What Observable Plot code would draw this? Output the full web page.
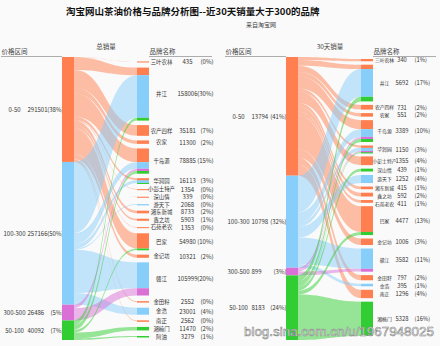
<!DOCTYPE html>
<html><head><meta charset="utf-8">
<script src="https://cdn.jsdelivr.net/npm/d3@7"></script>
<script src="https://cdn.jsdelivr.net/npm/@observablehq/plot@0.6"></script>
<style>
body{margin:0;background:#fafafa;font-family:"Noto Sans CJK SC",sans-serif;width:440px;height:346px;overflow:hidden;position:relative}
#title{height:20px;line-height:22px;font-size:9.5px;font-weight:bold;padding-left:66px;color:#111;white-space:nowrap}
#sub{height:13px;line-height:10px;font-size:6px;padding-left:246px;color:#444}
#wm{position:absolute;left:244px;top:324px;font:13.4px "Liberation Sans",sans-serif;color:#fff;-webkit-text-stroke:0.6px #888;white-space:nowrap}
svg{display:block}
</style></head><body>
<div id="title">淘宝网山茶油价格与品牌分析图--近30天销量大于300的品牌</div>
<div id="sub">来自淘宝网</div>
<div id="chart"></div>
<div id="wm">blog.sina.com.cn/u/1967948025</div>
<script>
// ---------- data ----------
const charts = ["总销量", "30天销量"];
const intervals = ["0-50", "100-300", "300-500", "50-100"];
const intervalColors = ["#ff7f50", "#87cefa", "#da70d6", "#32cd32"];

const intervalTotalsLeft = ["291501", "257166", "26486", "40092"];
const intervalPctsLeft = ["(38%)", "(50%)", "(5%)", "(7%)"];
const intervalTotalsRight = ["13794", "10798", "899", "8183"];
const intervalPctsRight = ["(41%)", "(32%)", "(3%)", "(24%)"];

const brandsLeft = ["三叶农林","井江","农产四样","农家","千岛源","华润园","小彭土特产","深山情","游天下","湘东新城","鑫之坊","石苑老农","巴家","金记坊","赣江","金田籽","金浩","南正","湘楠门","阿油"];
const brandValuesLeft = ["435","158006","35181","11300","78885","16113","1354","339","2068","8733","5903","1353","54980","10321","105999","2552","23001","2562","11470","3279"];
const brandPctsLeft = ["(0%)","(30%)","(7%)","(2%)","(15%)","(3%)","(0%)","(0%)","(0%)","(2%)","(1%)","(0%)","(10%)","(2%)","(20%)","(0%)","(4%)","(0%)","(2%)","(1%)"];

const brandsRight = ["三叶农林","井江","农产四样","农家","千岛源","华润园","小彭土特产","深山情","游天下","湘东新城","鑫之坊","石苑老农","巴家","金记坊","赣江","金田籽","金浩","南正","湘楠门"];
const brandValuesRight = ["340","5692","731","551","3389","1150","1355","439","1252","415","592","411","4477","1006","3582","797","395","1296","5328"];
const brandPctsRight = ["(1%)","(17%)","(2%)","(2%)","(10%)","(3%)","(4%)","(1%)","(4%)","(1%)","(2%)","(1%)","(13%)","(3%)","(11%)","(2%)","(1%)","(4%)","(16%)"];

// flows: [brand, price interval, sales] (estimated from band widths)
const linksLeft = [
  ["三叶农林","0-50",435],
  ["井江","0-50",25000],["井江","100-300",140000],["井江","50-100",9000],
  ["农产四样","0-50",35181],
  ["农家","0-50",11300],
  ["千岛源","0-50",45000],["千岛源","100-300",21700],["千岛源","300-500",7000],["千岛源","50-100",9000],
  ["华润园","0-50",6400],["华润园","100-300",9000],["华润园","50-100",713],
  ["小彭土特产","0-50",1354],
  ["深山情","0-50",339],
  ["游天下","100-300",2068],
  ["湘东新城","0-50",8733],
  ["鑫之坊","0-50",5903],
  ["石苑老农","0-50",1353],
  ["巴家","0-50",50000],["巴家","50-100",5000],
  ["金记坊","0-50",10321],
  ["赣江","100-300",85000],["赣江","300-500",24000],
  ["金田籽","0-50",2552],
  ["金浩","100-300",23001],
  ["南正","0-50",2562],
  ["湘楠门","50-100",11470],
  ["阿油","50-100",3279]
];
const linksRight = [
  ["三叶农林","0-50",340],
  ["井江","0-50",680],["井江","100-300",4300],["井江","50-100",712],
  ["农产四样","0-50",731],
  ["农家","0-50",551],
  ["千岛源","0-50",1400],["千岛源","100-300",1200],["千岛源","300-500",300],["千岛源","50-100",489],
  ["华润园","0-50",350],["华润园","100-300",500],["华润园","300-500",167],["华润园","50-100",133],
  ["小彭土特产","0-50",1355],
  ["深山情","50-100",439],
  ["游天下","100-300",1252],
  ["湘东新城","0-50",415],
  ["鑫之坊","0-50",592],
  ["石苑老农","0-50",411],
  ["巴家","0-50",4000],["巴家","50-100",477],
  ["金记坊","0-50",1006],
  ["赣江","100-300",3150],["赣江","300-500",432],
  ["金田籽","0-50",797],
  ["金浩","100-300",395],
  ["南正","0-50",1296],
  ["湘楠门","50-100",5328]
];

// ---------- layout (sankey-style stacking) ----------
const BAND = 87;          // facet band width in px
const PX = 1 / BAND;      // one pixel in x units
const W = 12 * PX;        // node column width
const UNIT = 1 / 283;     // one pixel in y units

function layout(chart, brands, links, p) {
  const total = d3.sum(links, d => d[2]);
  const L = links.map(([b, iv, v], i) => ({chart, id: chart + i, brand: b, src: iv,
    si: intervals.indexOf(iv), bi: brands.indexOf(b), v: v / total}));
  const src = [];
  let y = 0;
  intervals.forEach((iv, si) => {
    const ls = L.filter(l => l.si === si).sort((a, b) => a.bi - b.bi);
    const y0 = y;
    ls.forEach(l => { l.sy0 = y; y += l.v; l.sy1 = y; });
    src.push({chart, iv, si, y0, y1: y});
  });
  // brand column: scale k with a minimum node height
  const bv = brands.map((b, bi) => d3.sum(L.filter(l => l.bi === bi), l => l.v));
  const span = p.end - p.offset - p.gap * (brands.length - 1);
  let k = span / d3.sum(bv);
  for (let it = 0; it < 30; it++) {
    const small = bv.filter(v => v * k < p.minH);
    k = (span - small.length * p.minH) / d3.sum(bv.filter(v => v * k >= p.minH));
  }
  let by = p.offset;
  const nodes = [];
  brands.forEach((b, bi) => {
    const ls = L.filter(l => l.bi === bi).sort((a, c) => a.si - c.si);
    const h = bv[bi] * k, space = Math.max(h, p.minH);
    const y0 = by;
    let yy = by + (space - h) / 2;
    ls.forEach(l => { l.ty0 = yy; yy += l.v * k; l.ty1 = yy; });
    by += space;
    nodes.push({chart, b, bi, y0, y1: by});
    by += p.gap;
  });
  // label relaxation so small neighbours don't collide
  nodes.forEach(d => d.ly = (d.y0 + d.y1) / 2);
  for (let i = 1; i < nodes.length; i++)
    if (nodes[i].ly < nodes[i - 1].ly + p.labelGap) nodes[i].ly = nodes[i - 1].ly + p.labelGap;
  const n = nodes.length;
  if (nodes[n - 1].ly > p.labelMax) {
    nodes[n - 1].ly = p.labelMax;
    for (let i = n - 2; i >= 0; i--)
      if (nodes[i].ly > nodes[i + 1].ly - p.labelGap) nodes[i].ly = nodes[i + 1].ly - p.labelGap;
  }
  return {L, src, nodes};
}

const left = layout(charts[0], brandsLeft, linksLeft,
  {offset: 3 * UNIT, gap: 4.6 * UNIT, minH: 3 * UNIT, end: 281 * UNIT, labelGap: 7.4 * UNIT, labelMax: 283 * UNIT});
const right = layout(charts[1], brandsRight, linksRight,
  {offset: 2 * UNIT, gap: 3.5 * UNIT, minH: 0, end: 279 * UNIT, labelGap: 7.8 * UNIT, labelMax: 283 * UNIT});

left.src.forEach((d, i) => { d.val = intervalTotalsLeft[i]; d.pct = intervalPctsLeft[i]; });
right.src.forEach((d, i) => { d.val = intervalTotalsRight[i]; d.pct = intervalPctsRight[i]; });
left.nodes.forEach((d, i) => { d.val = brandValuesLeft[i]; d.pct = brandPctsLeft[i]; });
right.nodes.forEach((d, i) => { d.val = brandValuesRight[i]; d.pct = brandPctsRight[i]; });

const allLinks = [...left.L, ...right.L].sort((a, b) => a.si - b.si);
const linkRows = allLinks.flatMap(l => [
  {chart: l.chart, id: l.id, src: l.src, x: W, y1: l.sy0, y2: l.sy1},
  {chart: l.chart, id: l.id, src: l.src, x: 1 - W, y1: l.ty0, y2: l.ty1}
]);
const allSrc = [...left.src, ...right.src];
const headers = charts.map(c => ({chart: c}));
const mid = d => (d.y0 + d.y1) / 2;
const txt = {fontSize: 6, fill: "#333"};

const chart = Plot.plot({
  width: 440, height: 313,
  marginLeft: 61, marginRight: 67, marginTop: 24, marginBottom: 6,
  style: {fontFamily: "'Noto Sans CJK SC', sans-serif", background: "transparent"},
  fx: {domain: charts, paddingInner: 0.613, paddingOuter: 0, axis: null},
  x: {domain: [0, 1], axis: null},
  y: {domain: [0, 1], reverse: true, axis: null},
  color: {domain: intervals, range: intervalColors},
  marks: [
    Plot.text(headers, {fx: "chart", frameAnchor: "top", dy: -13, text: "chart", fontSize: 6.5, fill: "#444"}),
    Plot.text(headers, {fx: "chart", x: 0, y: 0, dx: -61, dy: -6, text: () => "价格区间", textAnchor: "start", fontSize: 6.5, fill: "#444"}),
    Plot.text(headers, {fx: "chart", x: 1, y: 0, dx: 0, dy: -6, text: () => "品牌名称", textAnchor: "start", fontSize: 6.5, fill: "#444"}),
    Plot.ruleY(headers, {fx: "chart", y: 0, x1: -61 * PX, x2: 0, stroke: "#999", strokeWidth: 0.8, dy: -1}),
    Plot.ruleY(headers, {fx: "chart", y: 0, x1: 1, x2: 1 + 63 * PX, stroke: "#999", strokeWidth: 0.8, dy: -1}),
    // flows
    Plot.area(linkRows, {fx: "chart", x1: "x", y1: "y1", y2: "y2", z: "id", fill: "src", fillOpacity: 0.5, curve: "bump-x"}),
    // price interval labels
    Plot.text(allSrc, {fx: "chart", x: 0, y: mid, text: "iv", dx: -48, textAnchor: "middle", ...txt}),
    Plot.text(allSrc, {fx: "chart", x: 0, y: mid, text: "val", dx: -35, textAnchor: "start", ...txt}),
    Plot.text(left.src, {fx: "chart", x: 0, y: mid, text: "pct", dx: 1, textAnchor: "end", ...txt}),
    Plot.text(right.src, {fx: "chart", x: 0, y: mid, text: "pct", dx: 0, textAnchor: "end", ...txt}),
    // nodes
    Plot.rect(allSrc, {fx: "chart", x1: 0, x2: W, y1: "y0", y2: "y1", fill: "iv"}),
    Plot.rect([...left.L, ...right.L], {fx: "chart", x1: 1 - W, x2: 1, y1: "ty0", y2: "ty1", fill: "src"}),
    Plot.ruleY([...left.L, ...right.L], {fx: "chart", x1: 1 - W, x2: 1, y: d => (d.ty0 + d.ty1) / 2, stroke: "src", strokeWidth: 1}),
    // brand labels
    Plot.text(left.nodes, {fx: "chart", x: 1, y: "ly", text: "b", dx: 12, textAnchor: "middle", ...txt, fontSize: 5.4}),
    Plot.text(left.nodes, {fx: "chart", x: 1, y: "ly", text: "val", dx: 38, textAnchor: "middle", ...txt}),
    Plot.text(left.nodes, {fx: "chart", x: 1, y: "ly", text: "pct", dx: 64, textAnchor: "end", ...txt}),
    Plot.text(right.nodes, {fx: "chart", x: 1, y: "ly", text: "b", dx: 11, textAnchor: "middle", ...txt, fontSize: 4.8}),
    Plot.text(right.nodes, {fx: "chart", x: 1, y: "ly", text: "val", dx: 28.5, textAnchor: "middle", ...txt, fontSize: 5.8}),
    Plot.text(right.nodes, {fx: "chart", x: 1, y: "ly", text: "pct", dx: 41, textAnchor: "start", ...txt, fontSize: 5.8})
  ]
});
document.getElementById("chart").append(chart);
</script>
</body></html>
